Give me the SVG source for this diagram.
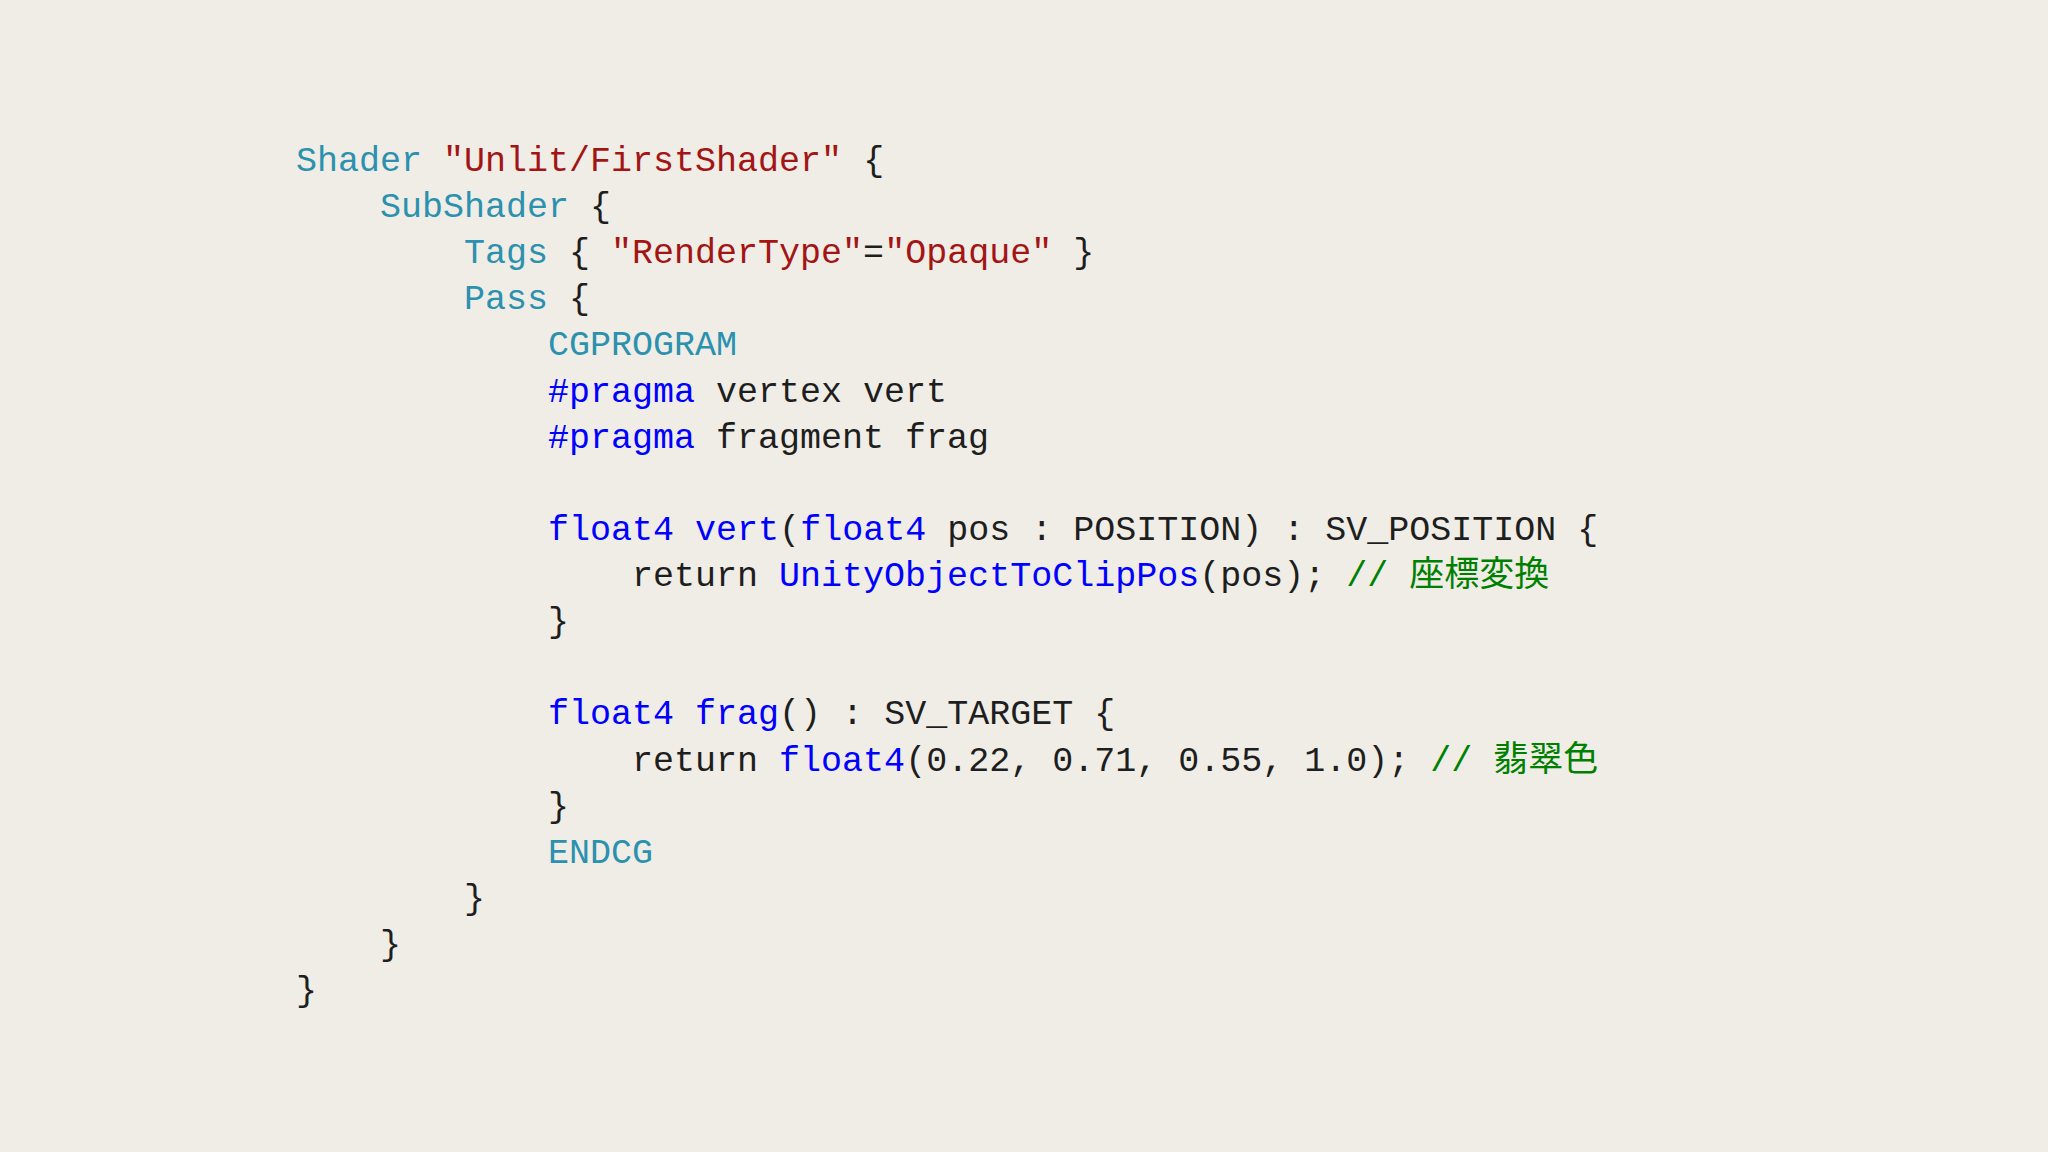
<svg xmlns="http://www.w3.org/2000/svg" width="2048" height="1152" viewBox="0 0 2048 1152">
<style>
text{font-family:"Liberation Mono","DejaVu Sans Mono","Noto Sans CJK JP",monospace;font-size:35px;fill:#1e1e1e;white-space:pre}
.k{fill:#2b91af}.s{fill:#a31515}.b{fill:#0000ff}.c{fill:#008000}
</style>
<rect width="2048" height="1152" fill="#efede6"/>
<g id="code" xml:space="preserve">
<text x="296" y="171"><tspan class="k">Shader</tspan> <tspan class="s">"Unlit/FirstShader"</tspan> {</text>
<text x="296" y="217">    <tspan class="k">SubShader</tspan> {</text>
<text x="296" y="263">        <tspan class="k">Tags</tspan> { <tspan class="s">"RenderType"</tspan>=<tspan class="s">"Opaque"</tspan> }</text>
<text x="296" y="309">        <tspan class="k">Pass</tspan> {</text>
<text x="296" y="355">            <tspan class="k">CGPROGRAM</tspan></text>
<text x="296" y="402">            <tspan class="b">#pragma</tspan> vertex vert</text>
<text x="296" y="448">            <tspan class="b">#pragma</tspan> fragment frag</text>
<text x="296" y="540">            <tspan class="b">float4</tspan> <tspan class="b">vert</tspan>(<tspan class="b">float4</tspan> pos : POSITION) : SV_POSITION {</text>
<text x="296" y="586">                return <tspan class="b">UnityObjectToClipPos</tspan>(pos); <tspan class="c">// 座標変換</tspan></text>
<text x="296" y="632">            }</text>
<text x="296" y="724">            <tspan class="b">float4</tspan> <tspan class="b">frag</tspan>() : SV_TARGET {</text>
<text x="296" y="771">                return <tspan class="b">float4</tspan>(0.22, 0.71, 0.55, 1.0); <tspan class="c">// 翡翠色</tspan></text>
<text x="296" y="817">            }</text>
<text x="296" y="863">            <tspan class="k">ENDCG</tspan></text>
<text x="296" y="909">        }</text>
<text x="296" y="955">    }</text>
<text x="296" y="1001">}</text>
</g>
</svg>
